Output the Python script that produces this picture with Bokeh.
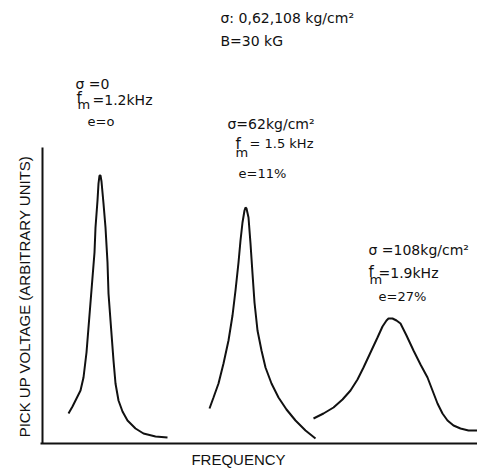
import math
from bokeh.plotting import figure
from bokeh.models import Label, Range1d, LinearAxis, FixedTicker
from bokeh.embed import file_html
from bokeh.resources import INLINE

# Curves (frequency, pick-up voltage; arbitrary units)
sigma0_freq = [26, 30, 33, 38, 41, 44, 46, 48, 50, 52, 53, 55, 56, 57,
               58, 59, 61, 63, 65, 66, 68, 71, 73, 76, 80, 85, 93, 101, 113, 125]
sigma0_volt = [30, 37, 43, 53, 66, 91, 116, 141, 166, 191, 216, 243, 260, 268,
               268, 262, 240, 216, 181, 150, 123, 83, 60, 43, 32, 23, 15, 10, 7, 6]

sigma62_freq = [167, 171, 176, 181, 186, 190, 193, 196, 198, 200, 202, 203,
                204, 206, 208, 210, 212, 215, 219, 223, 229, 236, 244, 253, 263, 273]
sigma62_volt = [35, 46, 60, 80, 103, 128, 153, 181, 203, 221, 233, 236,
                235, 226, 200, 170, 141, 113, 93, 76, 60, 46, 34, 23, 13, 5]

sigma108_freq = [271, 281, 291, 300, 308, 315, 321, 328, 335, 340, 344, 346, 350,
                 354, 358, 364, 371, 378, 385, 390, 395, 400, 405, 411, 418, 426, 435]
sigma108_volt = [25, 30, 36, 44, 53, 64, 76, 91, 106, 117, 123, 125, 125,
                 123, 120, 108, 93, 79, 66, 53, 40, 30, 23, 18, 15, 13, 13]

# Annotation texts (text, frequency position, voltage position, font size)
note_text = ["σ: 0,62,108 kg/cm²", "B=30 kG",
             "σ =0", "f", "m", "=1.2kHz", "e=o",
             "σ=62kg/cm²", "f", "m", "= 1.5 kHz", "e=11%",
             "σ =108kg/cm²", "f", "m", "=1.9kHz", "e=27%"]
note_x = [178, 178,
          33, 34, 35, 50, 45,
          185, 193, 193, 207, 196,
          326, 326, 327, 336, 336]
note_y = [426, 403,
          360, 346, 339, 344, 322,
          320, 300, 291, 300, 270,
          194, 172, 164, 171, 147]
note_size = ["14px", "14px",
             "14px", "15px", "13px", "14px", "13px",
             "14px", "15px", "13px", "13px", "13px",
             "14px", "15px", "13px", "14px", "13px"]

axis_label_y = "PICK UP VOLTAGE (ARBITRARY UNITS)"
axis_label_x = "FREQUENCY"

p = figure(width=477, height=468, output_backend="svg", toolbar_location=None,
           x_range=Range1d(-42, 435), y_range=Range1d(-25, 443),
           x_axis_type=None, y_axis_type=None,
           min_border_left=0, min_border_right=0, min_border_top=0,
           min_border_bottom=0)
p.outline_line_color = None
p.background_fill_color = "white"
p.border_fill_color = "white"

yax = LinearAxis(fixed_location=0, bounds=(0, 296))
xax = LinearAxis(fixed_location=0, bounds=(-2, 435))
for ax in (xax, yax):
    ax.ticker = FixedTicker(ticks=[])
    ax.axis_line_width = 2
    ax.axis_line_color = "#111111"
    ax.major_tick_line_color = None
    ax.minor_tick_line_color = None
    ax.major_tick_out = 0
    ax.major_tick_in = 0
    ax.major_label_standoff = 0
    ax.major_label_text_font_size = "0px"
p.add_layout(yax, "left")
p.add_layout(xax, "below")

for fx, vy in ((sigma0_freq, sigma0_volt), (sigma62_freq, sigma62_volt),
               (sigma108_freq, sigma108_volt)):
    p.line(fx, vy, line_color="#111111", line_width=2)

p.add_layout(Label(x=-18, y=147, text=axis_label_y, angle=math.pi / 2,
                   text_align="center", text_baseline="middle",
                   text_font="Liberation Sans", text_font_size="15px",
                   text_color="#111111"))
p.add_layout(Label(x=196, y=-16, text=axis_label_x, text_align="center",
                   text_baseline="alphabetic", text_font="Liberation Sans",
                   text_font_size="15px", text_color="#111111"))

for t, x, y, s in zip(note_text, note_x, note_y, note_size):
    p.add_layout(Label(x=x, y=y, text=t, text_align="left",
                       text_baseline="alphabetic", text_font="DejaVu Sans",
                       text_font_size=s, text_color="#111111"))

open("out.html", "w").write(file_html(p, INLINE))
